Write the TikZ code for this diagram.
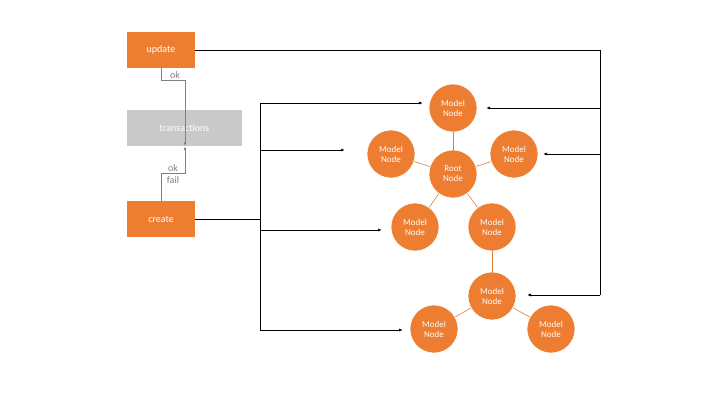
\documentclass[tikz,border=0pt]{standalone}
\usepackage{fontspec}
\setmainfont{Carlito}
\usetikzlibrary{arrows.meta}
\definecolor{org}{HTML}{ED7D31}
\definecolor{gry}{HTML}{C9C9C9}
\begin{document}
\begin{tikzpicture}[x=1pt,y=-1pt,
 box/.style={fill=org,text=white,minimum width=68pt,minimum height=36pt,inner sep=0pt,font=\fontsize{10}{11}\selectfont},
 mn/.style={circle,fill=org,draw=white,line width=0.6pt,text=white,minimum size=48pt,inner sep=0pt,align=center,font=\fontsize{9}{10}\selectfont},
 ar/.style={-{Latex[length=4pt,width=3pt]},line width=0.8pt},
 ga/.style={-{Latex[length=4pt,width=3pt]},draw=gray,line width=0.8pt},
 lk/.style={draw=org!70!brown,line width=0.6pt},
 lb/.style={text=gray,font=\fontsize{10}{11}\selectfont,inner sep=1pt}]
\useasboundingbox (0,0) rectangle (720,405);
\node[box] (upd) at (161,50) {update};
\node[box,fill=gry,minimum width=115pt] (tr) at (184.5,128) {transactions};
\node[box] (cr) at (161,219) {create};
\node[mn] (t) at (453,108) {Model\\Node};
\node[mn] (l) at (391,154) {Model\\Node};
\node[mn] (r) at (514,154) {Model\\Node};
\node[mn] (root) at (453,174) {Root\\Node};
\node[mn] (ll) at (415,227) {Model\\Node};
\node[mn] (lr) at (492,227) {Model\\Node};
\node[mn] (bm) at (492,296) {Model\\Node};
\node[mn] (bl) at (434,329) {Model\\Node};
\node[mn] (br) at (551,329) {Model\\Node};
\begin{scope}[on background layer/.style={}]
\end{scope}
\draw[lk] (root) -- (t); \draw[lk] (root) -- (l); \draw[lk] (root) -- (r);
\draw[lk] (root) -- (ll); \draw[lk] (root) -- (lr); \draw[lk] (lr) -- (bm);
\draw[lk] (bm) -- (bl); \draw[lk] (bm) -- (br);
% ok arrows
\coordinate (u1) at (161,80); \coordinate (u2) at (185,80);
\draw[ga] (upd.south) -- (u1) -- (u2) -- (tr.south -| u2);
\node[lb,anchor=south] at (175,80) {ok};
\coordinate (c1) at (161,173); \coordinate (c2) at (185,173);
\draw[ga] (cr.north) -- (c1) -- (c2) -- (tr.south -| c2 |- tr.south) ;
\node[lb,anchor=south] at (173,173) {ok};
\node[lb,anchor=north] at (173,175) {fail};
% update bus
\coordinate (ub) at (600,50); \coordinate (ue) at (600,295);
\draw[line width=0.8pt] (upd.east) -- (ub) -- (ue);
\coordinate (ua) at (600,108); \coordinate (ub2) at (600,154);
\draw[ar] (ua) -- (486,108);
\draw[ar] (ub2) -- (543,154);
\draw[ar] (ue) -- (527,295);
% create bus
\coordinate (cb) at (260,219); \coordinate (ct) at (260,103); \coordinate (cbt) at (260,330);
\draw[line width=1pt] (cr.east) -- (cb);
\draw[line width=0.8pt] (ct) -- (cbt);
\draw[ar] (ct) -- (423,103);
\draw[ar] (260,150) -- (345,150);
\draw[ar] (260,230) -- (382,230);
\draw[ar] (cbt) -- (403,330);
\end{tikzpicture}
\end{document}
